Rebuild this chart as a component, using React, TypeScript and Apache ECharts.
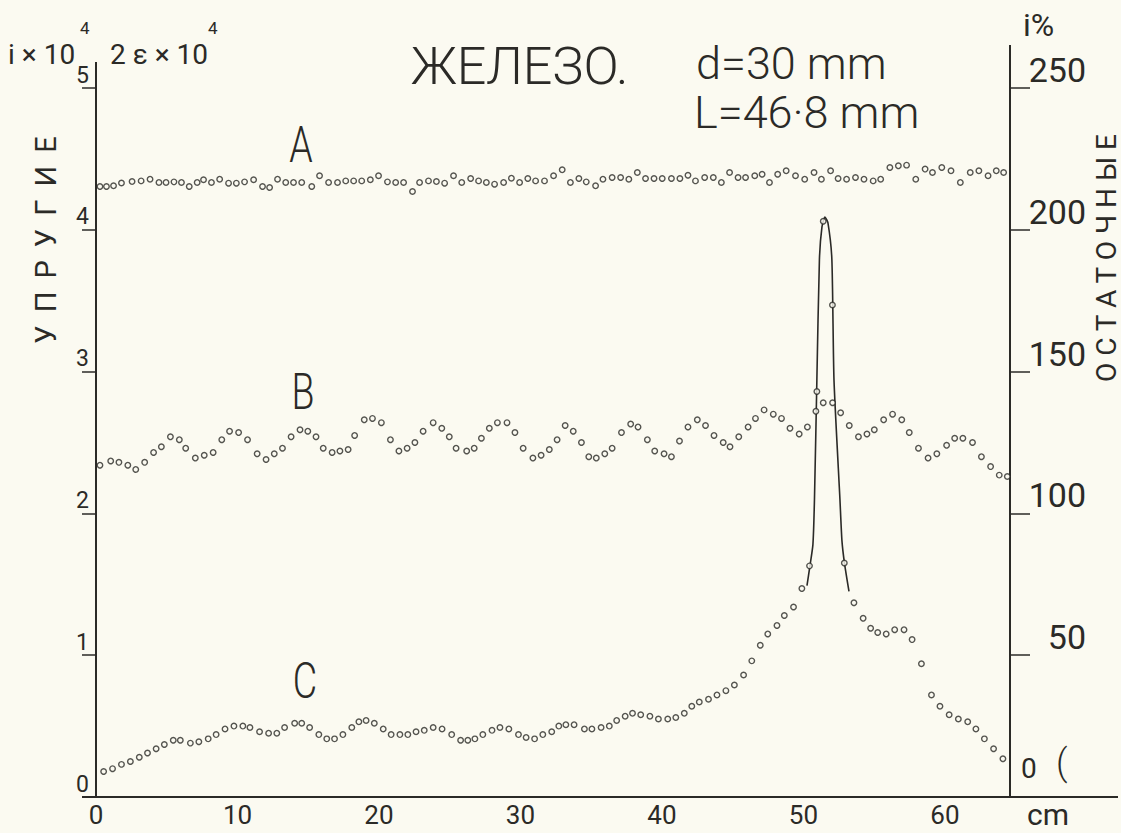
import React, { useEffect, useRef } from "react";
import * as echarts from "echarts";

// Series A (upper, elastic) — x in cm, value ×10^4
const A_X = [0.28,0.74,1.24,1.80,2.55,3.19,3.82,4.45,4.95,5.51,6.04,6.59,7.15,7.60,8.16,8.74,9.37,9.92,10.50,11.14,11.77,12.27,12.83,13.41,13.96,14.54,15.25,15.80,16.44,17.07,17.65,18.21,18.78,19.39,19.97,20.60,21.18,21.74,22.37,22.87,23.50,24.06,24.64,25.27,25.85,26.48,27.04,27.59,28.17,28.81,29.36,29.94,30.52,31.07,31.70,32.34,32.95,33.53,34.13,34.65,35.31,35.83,36.48,37.08,37.66,38.26,38.84,39.44,40.02,40.67,41.27,41.84,42.37,43.02,43.63,44.20,44.78,45.38,45.91,46.56,47.08,47.60,48.18,48.78,49.44,50.09,50.75,51.27,51.92,52.45,53.05,53.68,54.28,54.93,55.46,56.11,56.71,57.29,57.94,58.60,59.12,59.78,60.43,61.09,61.79,62.40,63.05,63.63,64.15];
const A_Y = [4.305,4.305,4.31,4.33,4.34,4.345,4.357,4.334,4.334,4.338,4.334,4.305,4.334,4.353,4.334,4.357,4.329,4.329,4.338,4.353,4.305,4.298,4.357,4.334,4.334,4.334,4.305,4.381,4.334,4.334,4.345,4.345,4.345,4.353,4.381,4.338,4.334,4.334,4.27,4.334,4.345,4.34,4.329,4.381,4.334,4.362,4.345,4.334,4.322,4.334,4.364,4.334,4.362,4.345,4.345,4.381,4.423,4.334,4.362,4.338,4.31,4.357,4.369,4.369,4.357,4.404,4.362,4.362,4.362,4.362,4.362,4.385,4.345,4.369,4.369,4.334,4.404,4.369,4.369,4.381,4.392,4.334,4.392,4.416,4.381,4.357,4.404,4.357,4.416,4.362,4.357,4.369,4.357,4.345,4.357,4.439,4.451,4.456,4.357,4.428,4.404,4.439,4.416,4.334,4.404,4.416,4.381,4.416,4.404];

// Series B (middle, elastic)
const B_X = [0.28,1.04,1.62,2.25,2.81,3.44,4.07,4.62,5.26,5.89,6.34,7.02,7.65,8.28,8.89,9.44,10.08,10.71,11.39,12.02,12.60,13.18,13.79,14.42,14.97,15.55,16.06,16.69,17.24,17.82,18.28,18.96,19.54,20.17,20.81,21.41,21.99,22.54,23.12,23.83,24.44,24.97,25.45,26.20,26.73,27.24,27.80,28.37,29.05,29.61,30.19,30.88,31.46,32.04,32.59,33.16,33.73,34.31,34.83,35.36,35.96,36.48,37.14,37.79,38.31,38.97,39.49,40.15,40.67,41.24,41.84,42.50,43.08,43.68,44.33,44.81,45.43,46.09,46.61,47.22,47.87,48.45,49.05,49.70,50.28,50.88,51.40,52.06,52.63,53.24,53.89,54.49,55.01,55.67,56.30,56.95,57.48,58.13,58.81,59.43,60.12,60.69,61.27,61.95,62.58,63.23,63.84,64.41];
const B_Y = [2.34,2.37,2.36,2.34,2.31,2.36,2.43,2.47,2.54,2.52,2.46,2.39,2.41,2.43,2.52,2.58,2.57,2.52,2.42,2.38,2.42,2.46,2.54,2.59,2.58,2.54,2.46,2.43,2.44,2.45,2.55,2.66,2.67,2.64,2.52,2.44,2.46,2.50,2.58,2.64,2.60,2.54,2.46,2.44,2.46,2.53,2.60,2.64,2.64,2.57,2.46,2.39,2.41,2.45,2.52,2.62,2.58,2.50,2.40,2.39,2.42,2.46,2.57,2.63,2.61,2.52,2.44,2.42,2.40,2.51,2.61,2.66,2.62,2.55,2.50,2.47,2.54,2.61,2.67,2.73,2.70,2.67,2.60,2.56,2.61,2.72,2.78,2.78,2.71,2.62,2.54,2.56,2.59,2.66,2.70,2.66,2.57,2.46,2.39,2.42,2.48,2.53,2.53,2.50,2.40,2.33,2.27,2.26];

// Series C (lower, residual) — measured dots
const C_X = [0.54,1.17,1.80,2.43,3.06,3.64,4.25,4.83,5.46,5.96,6.67,7.27,7.93,8.49,9.12,9.75,10.38,10.88,11.56,12.20,12.78,13.33,14.04,14.54,15.10,15.75,16.31,16.86,17.45,18.08,18.58,19.09,19.67,20.30,20.86,21.48,22.04,22.62,23.20,23.83,24.46,25.14,25.77,26.28,26.78,27.34,27.99,28.55,29.18,29.86,30.40,31.00,31.58,32.21,32.71,33.21,33.79,34.52,35.05,35.70,36.28,36.80,37.40,37.92,38.50,39.15,39.75,40.41,40.98,41.58,42.11,42.64,43.29,43.89,44.52,45.12,45.77,46.35,46.95,47.48,48.13,48.65,49.30,49.89,50.43,50.95,51.40,52.05,52.89,53.57,54.22,54.75,55.25,55.85,56.45,57.11,57.68,58.34,59.05,59.65,60.30,60.95,61.61,62.19,62.79,63.44,64.10,64.67];
const C_Y = [0.18,0.20,0.23,0.25,0.28,0.31,0.34,0.37,0.40,0.40,0.38,0.39,0.41,0.44,0.48,0.50,0.50,0.49,0.46,0.45,0.45,0.49,0.52,0.52,0.49,0.44,0.41,0.41,0.44,0.49,0.53,0.54,0.52,0.48,0.44,0.44,0.44,0.46,0.47,0.49,0.48,0.44,0.40,0.40,0.41,0.44,0.47,0.49,0.48,0.44,0.42,0.41,0.44,0.46,0.50,0.51,0.51,0.48,0.48,0.49,0.50,0.54,0.57,0.59,0.58,0.57,0.55,0.55,0.56,0.59,0.64,0.67,0.69,0.72,0.75,0.79,0.86,0.96,1.07,1.15,1.21,1.28,1.34,1.47,1.63,2.86,4.06,3.47,1.65,1.37,1.26,1.19,1.16,1.15,1.18,1.18,1.11,0.94,0.72,0.64,0.58,0.55,0.53,0.48,0.41,0.34,0.27,0.19];

// Hand-drawn curve through the sharp peak of C
const PEAK_X = [50.25,50.46,50.67,50.78,50.95,51.13,51.31,51.52,51.73,52.01,52.16,52.58,52.72,52.90,53.22];
const PEAK_Y = [1.49,1.63,1.78,2.10,2.94,3.79,4.02,4.09,4.05,3.79,2.94,2.10,1.81,1.65,1.45];

const X_TICKS = [0, 10, 20, 30, 40, 50, 60];

const INK = "#2b2a27";
const PAPER = "#fbfaf1";
const FONT = "Roboto, 'DejaVu Sans', sans-serif";
const GRID = { left: 96, top: 88, width: 914, height: 709 };

export default function App() {
  const ref = useRef<HTMLDivElement>(null);

  useEffect(() => {
    if (!ref.current) return;
    const chart = echarts.init(ref.current, null, { renderer: "svg" });
    const zip = (xs: number[], ys: number[]) => xs.map((x, i) => [x, ys[i]]);
    const R = GRID.left + GRID.width;
    const BOT = GRID.top + GRID.height;

    const txt = (text: string, x: number, y: number, size: number, opts: any = {}) => ({
      type: "text",
      x,
      y,
      silent: true,
      rotation: opts.rotation || 0,
      scaleX: opts.scaleX || 1,
      style: {
        text,
        fontSize: size,
        lineHeight: size,
        fontFamily: FONT,
        fontWeight: opts.weight || 400,
        fill: INK,
        align: opts.align || "left",
        textAlign: opts.align || "left",
        verticalAlign: "middle",
        textVerticalAlign: "middle",
      },
    });
    const ln = (x1: number, y1: number, x2: number, y2: number, w = 2) => ({
      type: "line",
      silent: true,
      shape: { x1, y1, x2, y2 },
      style: { stroke: INK, lineWidth: w },
    });

    const dot = {
      type: "scatter",
      symbol: "circle",
      symbolSize: 5.5,
      itemStyle: { color: PAPER, borderColor: INK, borderWidth: 1.4 },
      silent: true,
    };

    const spaced = (s: string, gap: string) => s.split("").join(gap);

    chart.setOption({
      animation: false,
      backgroundColor: PAPER,
      grid: { ...GRID, containLabel: false, outerBoundsMode: "none" },
      xAxis: {
        type: "value",
        min: 0,
        max: 64.6,
        interval: 10,
        axisLine: { show: false },
        axisTick: { show: false },
        splitLine: { show: false },
        axisLabel: {
          margin: 6,
          fontSize: 26,
          lineHeight: 24,
          fontFamily: FONT,
          fontWeight: 400,
          color: INK,
          formatter: (v: number) => (X_TICKS.indexOf(v) >= 0 ? String(v) : ""),
        },
      },
      yAxis: [
        {
          type: "value",
          position: "left",
          min: 0,
          max: 5,
          interval: 1,
          axisLine: { show: true, lineStyle: { color: INK, width: 2 } },
          axisTick: { show: true, length: 14, lineStyle: { color: INK, width: 1.5 } },
          splitLine: { show: false },
          axisLabel: {
            margin: 7,
            fontSize: 23,
            lineHeight: 20,
            fontFamily: FONT,
            fontWeight: 400,
            color: INK,
            verticalAlign: "bottom",
            padding: [0, 0, 3, 0],
          },
        },
        {
          type: "value",
          position: "right",
          min: 0,
          max: 250,
          interval: 50,
          axisLine: { show: true, lineStyle: { color: INK, width: 2 } },
          axisTick: { show: true, length: 20, lineStyle: { color: INK, width: 1.5 } },
          splitLine: { show: false },
          axisLabel: {
            margin: 76,
            align: "right",
            fontSize: 34,
            lineHeight: 28,
            fontFamily: FONT,
            fontWeight: 400,
            color: INK,
            verticalAlign: "bottom",
            padding: [0, 0, 4, 0],
            formatter: (v: number) => (v === 0 ? "" : String(v)),
          },
        },
      ],
      series: [
        { ...dot, name: "A", data: zip(A_X, A_Y) },
        { ...dot, name: "B", data: zip(B_X, B_Y) },
        {
          type: "line",
          name: "C peak",
          data: zip(PEAK_X, PEAK_Y),
          showSymbol: false,
          smooth: 0.2,
          lineStyle: { color: INK, width: 1.6 },
          silent: true,
          z: 1,
        },
        { ...dot, name: "C", data: zip(C_X, C_Y), z: 3 },
      ],
      graphic: [
        ln(82, BOT, 1118, BOT),
        ln(GRID.left, 62, GRID.left, GRID.top),
        ln(R, 45, R, GRID.top),
        txt("ЖЕЛЕЗО.", 411, 66, 52, { weight: 300 }),
        txt("d=30 mm", 696, 63, 45, { weight: 300 }),
        txt("L=46·8 mm", 694, 112, 45, { weight: 300 }),
        txt("i × 10", 8, 54, 28),
        txt("4", 80, 28, 17),
        txt("2 ε × 10", 110, 54, 28),
        txt("4", 208, 28, 17),
        txt("i%", 1023, 25, 32),
        txt(spaced("УПРУГИЕ", " \u2009"), 46, 240, 29, { align: "center", rotation: Math.PI / 2 }),
        txt(spaced("ОСТАТОЧНЫЕ", " "), 1106, 258, 28, { align: "center", rotation: Math.PI / 2 }),
        txt("A", 301, 145, 50, { align: "center", scaleX: 0.75, weight: 300 }),
        txt("B", 303, 392, 50, { align: "center", scaleX: 0.75, weight: 300 }),
        txt("C", 305, 681, 50, { align: "center", scaleX: 0.75, weight: 300 }),
        txt("cm", 1027, 814, 30),
        txt("0", 1021, 768, 28),
        txt("(", 1056, 763, 36, { weight: 300 }),
      ],
    });

    return () => chart.dispose();
  }, []);

  return (
    <div
      ref={ref}
      style={{ position: "absolute", left: 0, top: 0, width: 1121, height: 833, background: PAPER }}
    />
  );
}
